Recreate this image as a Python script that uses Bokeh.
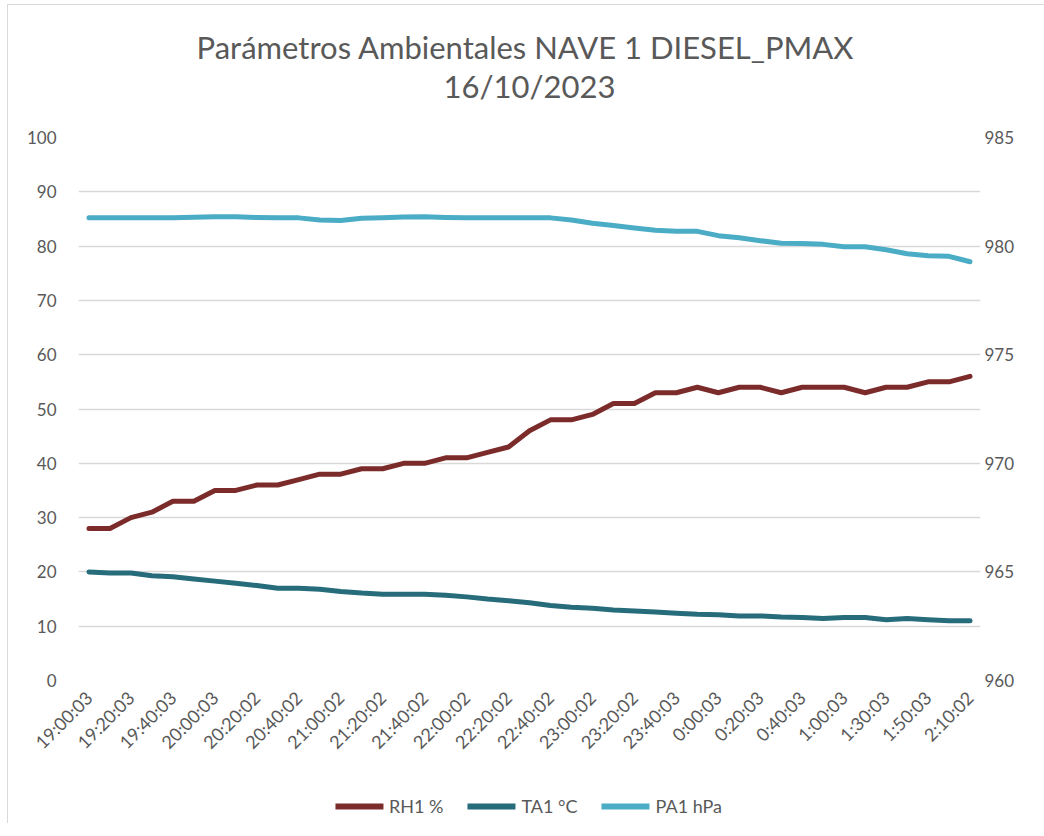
import math
from bokeh.plotting import figure
from bokeh.layouts import column
from bokeh.models import Range1d, LinearAxis, FixedTicker, Legend, LegendItem, Title
from bokeh.embed import file_html
from bokeh.resources import INLINE

title_line1 = "Parámetros Ambientales  NAVE 1 DIESEL_PMAX"
title_line2 = "16/10/2023"

tick_labels = ["19:00:03", "19:20:03", "19:40:03", "20:00:03", "20:20:02", "20:40:02",
               "21:00:02", "21:20:02", "21:40:02", "22:00:02", "22:20:02", "22:40:02",
               "23:00:02", "23:20:02", "23:40:03", "0:00:03", "0:20:03", "0:40:03",
               "1:00:03", "1:30:03", "1:50:03", "2:10:02"]

rh1 = [28, 28, 30, 31, 33, 33, 35, 35, 36, 36, 37, 38, 38, 39, 39, 40, 40, 41, 41, 42, 43,
       46, 48, 48, 49, 51, 51, 53, 53, 54, 53, 54, 54, 53, 54, 54, 54, 53, 54, 54, 55, 55, 56]
ta1 = [20.0, 19.8, 19.8, 19.3, 19.1, 18.7, 18.3, 17.9, 17.5, 17.0, 17.0, 16.8, 16.4, 16.1,
       15.9, 15.9, 15.9, 15.7, 15.4, 15.0, 14.7, 14.3, 13.8, 13.5, 13.3, 13.0, 12.8, 12.6,
       12.4, 12.2, 12.1, 11.9, 11.9, 11.7, 11.6, 11.4, 11.6, 11.6, 11.2, 11.4, 11.2, 11.0, 11.0]
pa1 = [981.30, 981.30, 981.30, 981.30, 981.30, 981.33, 981.35, 981.35, 981.32, 981.30, 981.30,
       981.20, 981.18, 981.28, 981.30, 981.34, 981.35, 981.32, 981.30, 981.30, 981.30, 981.30,
       981.30, 981.20, 981.05, 980.95, 980.83, 980.73, 980.68, 980.68, 980.48, 980.38, 980.25,
       980.13, 980.12, 980.08, 979.97, 979.97, 979.83, 979.65, 979.56, 979.53, 979.28]

series_names = ["RH1 %", "TA1 °C", "PA1 hPa"]
colors = ["#7B2C2A", "#276C7B", "#4BACC6"]

x = list(range(len(rh1)))
FONT = "Lato"
GRAY = "#595959"

p = figure(frame_width=901, frame_height=542, output_backend="svg", toolbar_location=None,
           x_range=Range1d(-0.5, len(x) - 0.5), y_range=Range1d(0, 100),
           min_border_left=70, min_border_right=65, min_border_top=132, min_border_bottom=110)
p.extra_y_ranges = {"pa": Range1d(960, 985)}
p.outline_line_color = None
p.background_fill_color = "white"
p.border_fill_color = "white"
p.styles = {"margin-left": "7px", "margin-top": "4px",
            "border-left": "1px solid #d9d9d9", "border-top": "1px solid #d9d9d9"}

xa = p.below[0]
ya = p.left[0]

t2 = Title(text=title_line2, align="center", text_font=FONT, text_font_size="31px",
           text_color=GRAY, text_font_style="normal", standoff=66)
t1 = Title(text=title_line1, align="center", text_font=FONT, text_font_size="31px",
           text_color=GRAY, text_font_style="normal", standoff=-68)
p.add_layout(t2, "above")
p.add_layout(t1, "above")

# axes
xa.ticker = FixedTicker(ticks=list(range(0, len(x), 2)))
xa.major_label_overrides = {2 * i: lab for i, lab in enumerate(tick_labels)}
xa.major_label_orientation = math.pi / 4
ya.ticker = FixedTicker(ticks=list(range(0, 101, 10)))
ra = LinearAxis(y_range_name="pa", ticker=FixedTicker(ticks=list(range(960, 986, 5))))
p.add_layout(ra, "right")

for ax in [xa, ya, ra]:
    ax.axis_line_color = None
    ax.major_tick_line_color = None
    ax.minor_tick_line_color = None
    ax.major_tick_out = 0
    ax.minor_tick_out = 0
    ax.major_tick_in = 0
    ax.minor_tick_in = 0
    ax.major_label_text_font = FONT
    ax.major_label_text_font_size = "17px"
    ax.major_label_text_color = GRAY
xa.major_label_text_font_size = "18px"
xa.major_label_standoff = 14
ya.major_label_standoff = 22
ra.major_label_standoff = 4

p.xgrid.visible = False
p.ygrid.grid_line_color = "#d9d9d9"
p.ygrid.grid_line_width = 1.5

line_kw = dict(line_width=5, line_join="round", line_cap="round")
p.line(x, rh1, line_color=colors[0], **line_kw)
p.line(x, ta1, line_color=colors[1], **line_kw)
p.line(x, pa1, line_color=colors[2], y_range_name="pa", **line_kw)

# legend strip below the chart (same series, view placed so only the legend shows)
lf = figure(width=1036, height=34, output_backend="svg", toolbar_location=None,
            x_range=Range1d(-1000, -999), y_range=Range1d(0, 100),
            x_axis_location=None, y_axis_location=None,
            min_border_left=0, min_border_right=0, min_border_top=0, min_border_bottom=0)
lf.outline_line_color = None
lf.grid.visible = False
lf.styles = {"margin-left": "7px", "border-left": "1px solid #d9d9d9"}
leg_kw = dict(line_width=6, line_join="round", line_cap="round")
g1 = lf.line(x, rh1, line_color=colors[0], **leg_kw)
g2 = lf.line(x, ta1, line_color=colors[1], **leg_kw)
g3 = lf.line(x, pa1, line_color=colors[2], **leg_kw)

legend = Legend(items=[LegendItem(label=series_names[0], renderers=[g1]),
                       LegendItem(label=series_names[1], renderers=[g2]),
                       LegendItem(label=series_names[2], renderers=[g3])],
                orientation="horizontal", location="center")
legend.border_line_color = None
legend.background_fill_alpha = 0
legend.label_text_font = FONT
legend.label_text_font_size = "18px"
legend.label_text_color = GRAY
legend.glyph_width = 48
legend.label_standoff = 6
legend.spacing = 24
legend.padding = 2
legend.margin = 0
lf.add_layout(legend, "center")

layout = column(p, lf, spacing=0)
open("out.html", "w").write(file_html(layout, INLINE))
